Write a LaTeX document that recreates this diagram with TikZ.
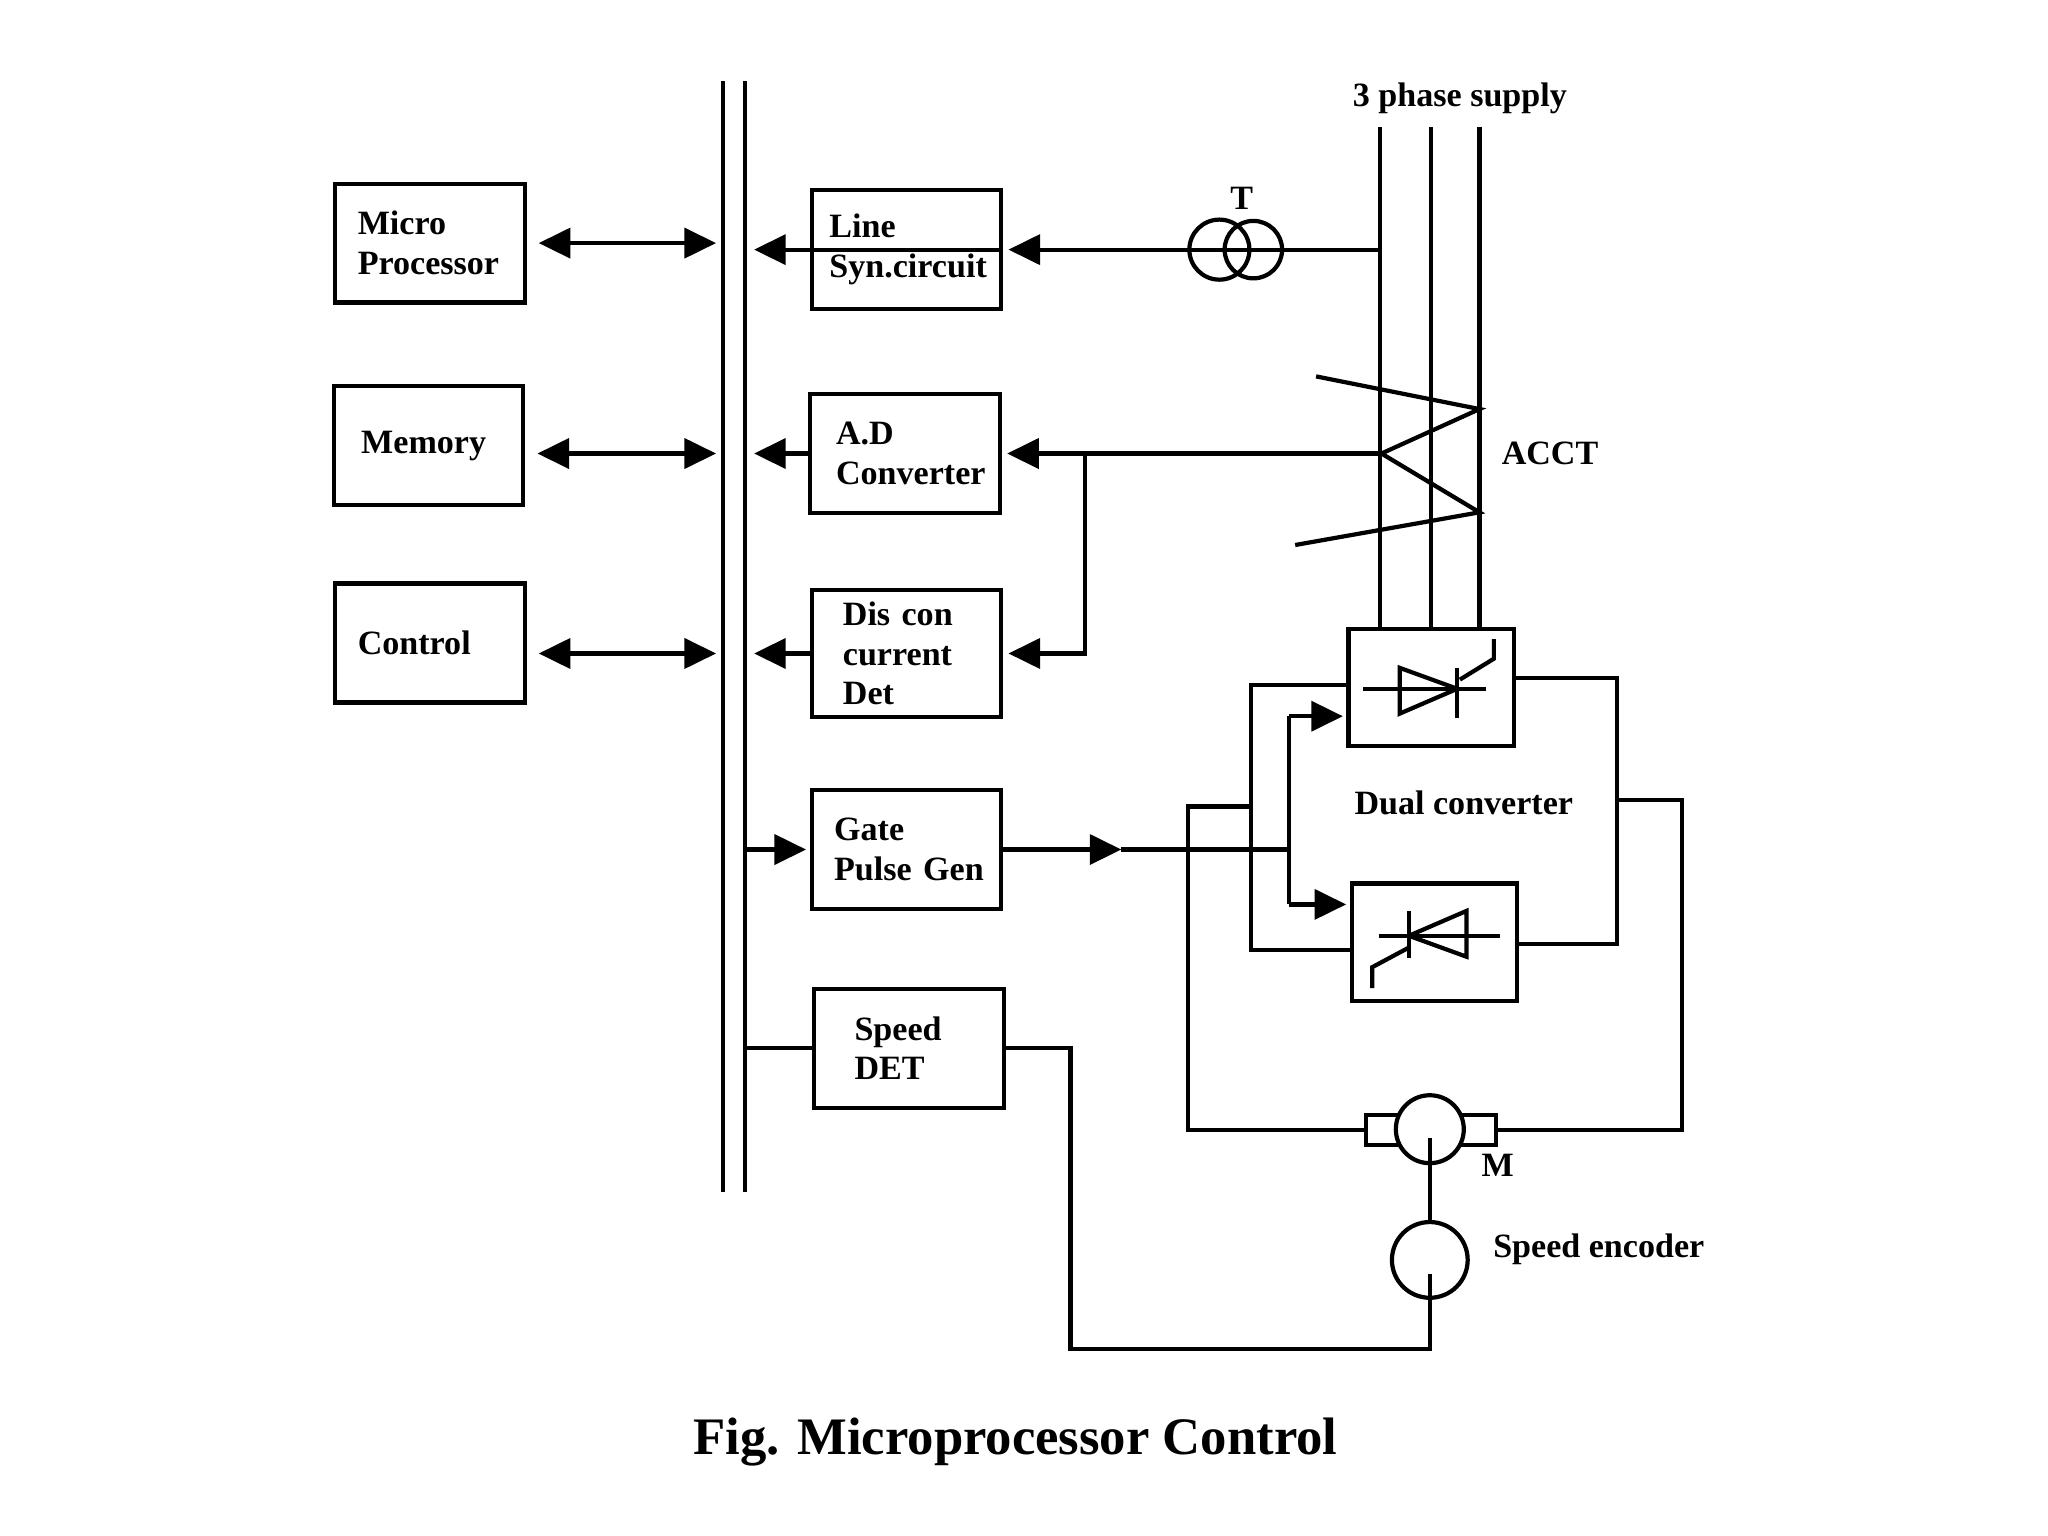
\documentclass[tikz,border=0pt]{standalone}
\usepackage{fontspec}
\setmainfont{Liberation Serif}
\usetikzlibrary{positioning}
\usetikzlibrary{arrows.meta}
\tikzset{
    blk/.style = {rectangle, draw=black, line width=1.2pt, minimum width=1.895cm, minimum height=1.19cm, inner xsep=0pt, text width=#1, align=left},
    blk/.default = 1.445cm,
    conv/.style = {rectangle, draw=black, line width=1.2pt, minimum width=1.653cm, minimum height=1.177cm},
    ring/.style = {circle, draw=black, line width=1.2pt, inner sep=0pt, minimum size=#1},
    term/.style = {rectangle, draw=black, line width=1.2pt, minimum width=0.352cm, minimum height=0.3cm},
    lbl/.style = {inner sep=0pt},
    wire/.style = {line width=1.2pt},
    edgebi/.style = {{Triangle[length=9pt,width=8.5pt]}-{Triangle[length=9pt,width=8.5pt]}, line width=1.2pt, shorten <=3.4pt, shorten >=1.9pt},
    edgel/.style = {{Triangle[length=9pt,width=8.5pt]}-, line width=1.2pt, shorten <=#1},
    edgel/.default = 1.5pt,
    edger/.style = {-{Triangle[length=9pt,width=8.5pt]}, line width=1.2pt, shorten >=#1},
    edger/.default = 1pt
}

\begin{document}
\begin{tikzpicture}[x=0.01307cm, y=-0.01307cm, font=\bfseries\fontsize{9.7}{11.3}\selectfont]
\useasboundingbox (0,0) rectangle (1567,1175);
%
\coordinate (bl1) at (553,62);
\coordinate (bl2) at (553,912);
\coordinate (br1) at (570,62);
\coordinate (br2) at (570,912);
\draw[wire] (bl1) -- (bl2);
\draw[wire] (br1) -- (br2);
%
\node[blk] at (329,186) (mp) {Micro\\Processor};
\node[blk=1.35cm] at (328,341) (mem) {Memory};
\node[blk] at (329,492) (ctl) {Control};
%
\node[blk=1.54cm] at (693.5,191) (ls) {Line\\Syn.circuit};
\node[blk=1.38cm] at (692.5,347) (ad) {A.D\\Converter};
\node[blk=1.27cm] at (693.5,500) (dcd) {Dis con\\current\\Det};
\node[blk] at (693.5,650) (gp) {Gate\\Pulse~Gen};
\node[blk=1.09cm] at (695.5,802) (sd) {Speed\\DET};
%
\draw[edgebi] (mp.east) -- (mp.east -| bl1);
\draw[edgebi] (mem.east |- ad.west) -- (ad.west -| bl1);
\draw[edgebi] (ctl.east |- dcd.west) -- (dcd.west -| bl1);
%
\draw[edgel=2.6pt] (ls.west -| br1) -- (ls.west);
\draw[wire] (ls.west) -- (ls.east);
\draw[edgel=2.6pt] (ad.west -| br1) -- (ad.west);
\draw[edgel=2.6pt] (dcd.west -| br1) -- (dcd.west);
\draw[edger] (gp.west -| br1) -- (gp.west);
\draw[wire] (sd.west -| br1) -- (sd.west);
%
% supply, transformer and ACCT
\coordinate (p1) at (1056,97);
\coordinate (p2) at (1095,97);
\coordinate (p3) at (1132,97);
\node[lbl] at (1117,75) (sup) {3 phase supply};
\node[ring=0.601cm] at (933,191) (tra) {};
\node[ring=0.575cm] at (959,191) (trb) {};
\node[lbl] at (950,152) (tl) {T};
\draw[edgel] (ls.east) -- (ls.east -| p1);
%
\node[conv] at (1095,526) (du) {};
\node[conv] at (1097.5,721) (dl) {};
\draw[wire] (p1) -- (p1 |- du.north);
\draw[wire] (p2) -- (p2 |- du.north);
\draw[wire] (p3) -- (p3 |- du.north);
%
\coordinate (ct) at (1057,347);
\coordinate (aj) at (830,347);
\draw[wire] (1007,288) -- (1132,313) -- (ct) -- (1132,392) -- (991,417);
\node[lbl] at (1186,347) (acct) {ACCT};
\draw[edgel] (ad.east) -- (ct);
\draw[edgel] (dcd.east) -| (aj);
%
% thyristors
\draw[wire] (1043,527) -- (1137,527);
\draw[wire] (1071,511) -- (1071,546) -- (1115,527) -- cycle;
\draw[wire] (1115,511) -- (1115,549);
\draw[wire] (1117,520) -- (1143,504) -- (1143,489);
\draw[wire] (1055,716) -- (1148,716);
\draw[wire] (1122,697) -- (1122,732) -- (1078,716) -- cycle;
\draw[wire] (1078,697) -- (1078,733);
\draw[wire] (1078,725) -- (1050,740) -- (1050,756);
\node[lbl] at (1120,614) (dlab) {Dual converter};
%
% gate pulses
\coordinate (gt) at (858,650);
\coordinate (gj) at (986,650);
\coordinate (gu) at (986,548);
\coordinate (gd) at (986,692);
\draw[edger=0pt] (gp.east) -- (gt);
\draw[wire] (gt) -- (gj);
\draw[wire] (gu) -- (gd);
\draw[edger] (gu) -- (gu -| du.west);
\draw[edger] (gd) -- (gd -| dl.west);
%
\coordinate (la) at (957,617);
\coordinate (ra) at (1237,612);
\draw[wire] (du.west |- 0,524) -| (la) |- (dl.west |- 0,727);
\draw[wire] (du.east |- 0,519) -| (ra) |- (dl.east |- 0,722);
%
% motor and encoder
\node[term] at (1058.5,864.5) (mtl) {};
\node[term] at (1131,864.5) (mtr) {};
\node[ring=0.68cm, fill=white] at (1094,864) (mot) {};
\node[lbl] at (1146,892) (ml) {M};
\draw[wire] (la) -- (909,617) |- (mtl.west);
\draw[wire] (ra) -- (1287,612) |- (mtr.east);
\node[ring=0.758cm] at (1094,964) (enc) {};
\node[lbl, anchor=west] at (1142,956) (el) {Speed encoder};
\draw[wire] ([yshift=-0.09cm]mot.center) -- (enc.north);
\coordinate (eb) at (819,1032);
\draw[wire] (sd.east) -| (eb) -| ([yshift=-0.14cm]enc.center);
%
\node[lbl, font=\bfseries\fontsize{15}{18}\selectfont] at (777,1103) (cap) {Fig. Microprocessor Control};

\end{tikzpicture}
\end{document}
